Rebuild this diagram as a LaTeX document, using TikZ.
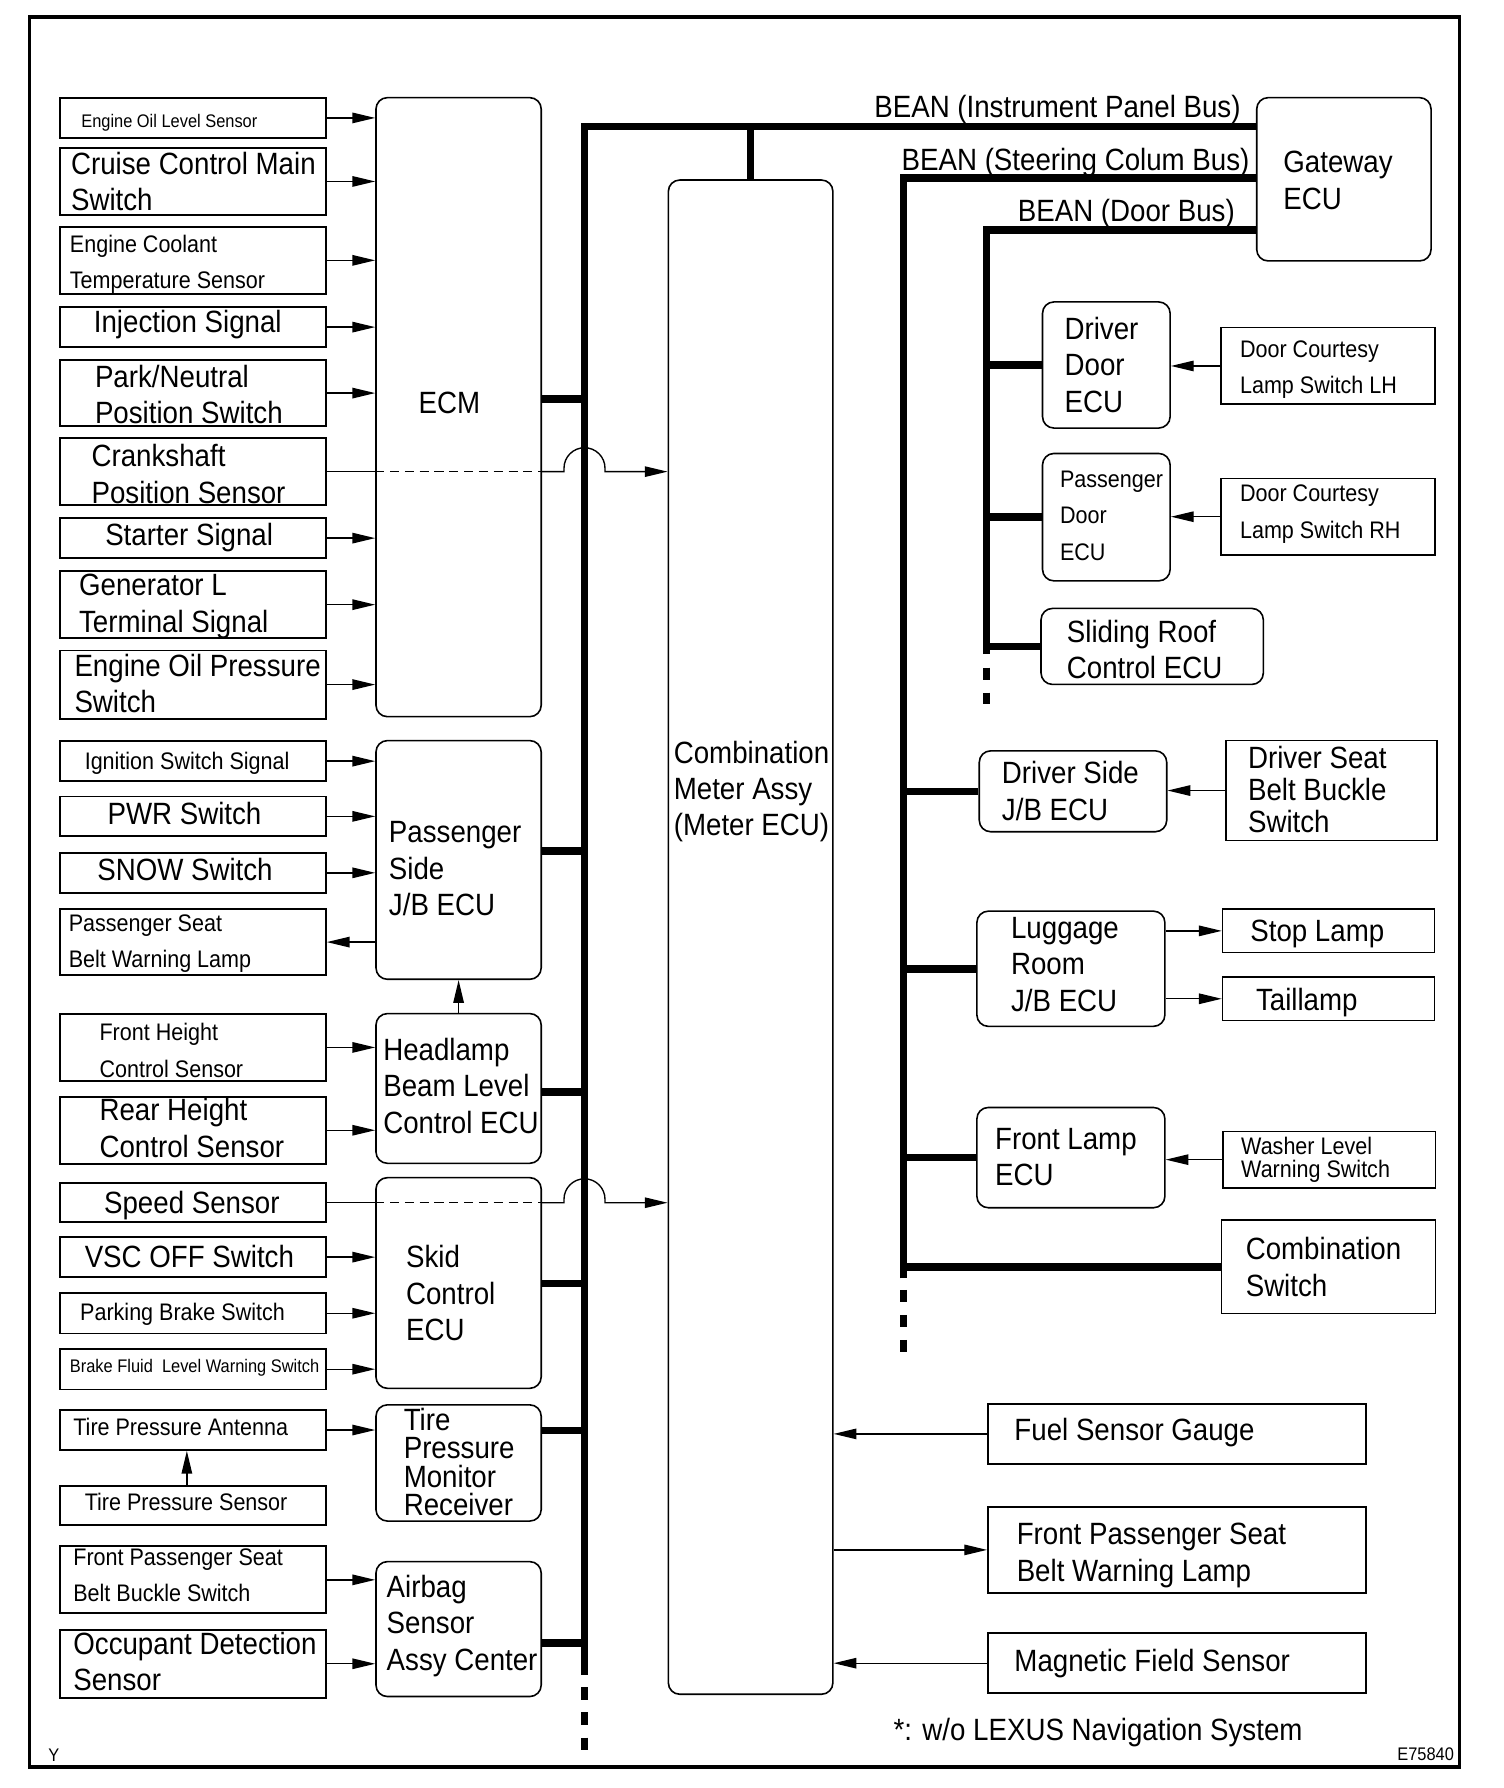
\documentclass[tikz,border=0pt]{standalone}
\usepackage{fontspec}
\setmainfont{Liberation Sans}[FakeStretch=0.9]
\usetikzlibrary{arrows.meta}
\newcommand\fL{\fontsize{13.5}{16}\selectfont}
\newcommand\fLt{\fontsize{13.5}{12.5}\selectfont}
\newcommand\fLd{\fontsize{13.5}{14}\selectfont}
\newcommand\fM{\fontsize{10.5}{16}\selectfont}
\newcommand\fMw{\fontsize{10.5}{10}\selectfont}
\newcommand\fS{\fontsize{8}{10}\selectfont}
\newcommand\bx[6]{\node[#1, minimum width={(#5-#3)*0.5pt}, minimum height={(#6-#4)*0.5pt}] (#2) at ({(#3+#5)/2},{(#4+#6)/2}) {};}
\newcommand\tx[4]{\node[txt, font=#1] (#2) at (#3) {\rule{0pt}{0.97em}#4\rule[-0.25em]{0pt}{0.25em}};}
\tikzset{
 lbox/.style={draw, line width=0.8pt, inner sep=0pt},
 ecu/.style={draw, rounded corners=5pt, line width=0.7pt, inner sep=0pt},
 rbox/.style={draw, line width=0.7pt, inner sep=0pt},
 txt/.style={anchor=west, inner sep=0pt, align=left},
 bus/.style={line width=3.3pt},
 busd/.style={line width=3.3pt, dash pattern=on 5.5pt off 5.5pt},
 arr/.style={line width=0.6pt, -{Triangle[length=10pt,width=4.6pt]}},
 thinl/.style={line width=0.6pt},
}
\begin{document}
\begin{tikzpicture}[x=0.5pt,y=-0.5pt]
\useasboundingbox (0,0) rectangle (1320,1569.3);
\draw[line width=1.5pt] (26,15) rectangle (1281,1551);

% left boxes
\bx{lbox}{eol}{53}{86}{286}{121}
\bx{lbox}{ccm}{53}{130}{286}{188.5}
\bx{lbox}{ect}{53}{199}{286}{258}
\bx{lbox}{inj}{53}{269.5}{286}{304.7}
\bx{lbox}{pnp}{53}{316}{286}{374}
\bx{lbox}{cps}{53}{384.4}{286}{443.5}
\bx{lbox}{sts}{53}{454.6}{286}{490}
\bx{lbox}{gen}{53}{501.4}{286}{560}
\bx{lbox}{eop}{53}{571}{286}{630.7}
\bx{lbox}{ign}{53}{650.4}{286}{685.7}
\bx{lbox}{pwr}{53}{699}{286}{734}
\bx{lbox}{snow}{53}{748.6}{286}{783.5}
\bx{lbox}{psb}{53}{797.7}{286}{856}
\bx{lbox}{fhc}{53}{889.6}{286}{949}
\bx{lbox}{rhc}{53}{962.6}{286}{1021.4}
\bx{lbox}{spd}{53}{1038.6}{286}{1072.6}
\bx{lbox}{vsc}{53}{1085.7}{286}{1121}
\bx{lbox}{pbs}{53}{1134.8}{286}{1170.4}
\bx{lbox}{bfl}{53}{1183.9}{286}{1219.5}
\bx{lbox}{tpa}{53}{1237.6}{286}{1272.6}
\bx{lbox}{tps}{53}{1304}{286}{1338.8}
\bx{lbox}{fpb}{53}{1357.2}{286}{1416}
\bx{lbox}{ods}{53}{1430.5}{286}{1490}

% ECUs
\bx{ecu}{ecm}{330}{85.7}{475}{629}
\bx{ecu}{psj}{330}{650}{475}{859.5}
\bx{ecu}{hlb}{330}{889.6}{475}{1021}
\bx{ecu}{skid}{330}{1033.6}{475}{1218.5}
\bx{ecu}{tpm}{330}{1233}{475}{1335}
\bx{ecu}{abg}{330}{1370.6}{475}{1489}
\bx{ecu}{meter}{586.6}{158}{731}{1487}
\bx{ecu}{gw}{1103}{85.7}{1256}{229}
\bx{ecu}{dde}{915}{265}{1027}{375.7}
\bx{ecu}{pde}{915}{398}{1027}{509.8}
\bx{ecu}{srf}{913.7}{534}{1108.8}{600.7}
\bx{ecu}{dsj}{859.5}{659}{1024}{730}
\bx{ecu}{lrj}{857.4}{799.7}{1022.4}{900.8}
\bx{ecu}{fle}{857.4}{972}{1022.4}{1060}

% right boxes
\bx{rbox}{dcl}{1071.7}{287.6}{1259.5}{354.8}
\bx{rbox}{dcr}{1071.7}{420}{1259.5}{487}
\bx{rbox}{dsb}{1076}{650}{1261}{737.7}
\bx{rbox}{stop}{1073}{798}{1259}{836}
\bx{rbox}{tail}{1073}{857.5}{1259}{895.7}
\bx{rbox}{wash}{1073.4}{993}{1260}{1042.6}
\bx{rbox}{csw}{1072}{1071}{1260}{1153}
\bx{rbox}{fsg}{867}{1232}{1199}{1285}
\bx{rbox}{fpl}{867}{1322.6}{1199}{1398}
\bx{rbox}{mfs}{867}{1433.5}{1199}{1486}

% buses
\coordinate (ipc) at (513,111);
\coordinate (scc) at (793,156);
\coordinate (dbc) at (866,202);
\coordinate (mbe) at (513,1470);
\coordinate (sbe) at (793,1122);
\coordinate (dbe) at (866,574);
\draw[bus] (mbe) -- (ipc) -- (ipc -| gw.west);
\draw[busd] (513,1481) -- (513,1537);
\draw[bus] (meter.north) -- (meter.north |- ipc);
\draw[bus] (sbe) -- (scc) -- (scc -| gw.west);
\draw[busd] (793,1132) -- (793,1189);
\draw[bus] (dbe) -- (dbc) -- (dbc -| gw.west);
\draw[busd] (866,586) -- (866,618);

\coordinate (b1) at (513,350);
\coordinate (b2) at (513,747);
\coordinate (b3) at (513,958.6);
\coordinate (b4) at (513,1126.5);
\coordinate (b5) at (513,1255.5);
\coordinate (b6) at (513,1442);
\draw[bus] (b1 -| ecm.east) -- (b1);
\draw[bus] (b2 -| psj.east) -- (b2);
\draw[bus] (b3 -| hlb.east) -- (b3);
\draw[bus] (b4 -| skid.east) -- (b4);
\draw[bus] (b5 -| tpm.east) -- (b5);
\draw[bus] (b6 -| abg.east) -- (b6);

\draw[bus] (dde.west) -- (dde.west -| dbc);
\draw[bus] (pde.west) -- (pde.west -| dbc);
\draw[bus] (srf.west) -- (srf.west -| dbc);
\draw[bus] (dsj.west) -- (dsj.west -| scc);
\draw[bus] (lrj.west) -- (lrj.west -| scc);
\draw[bus] (fle.west) -- (fle.west -| scc);
\draw[bus] (csw.west) -- (csw.west -| scc);

% arrows into the ECUs
\foreach \n in {eol,ccm,ect,inj,pnp,sts,gen,eop}
  \draw[arr] (\n.east) -- (\n.east -| ecm.west);
\foreach \n in {ign,pwr,snow}
  \draw[arr] (\n.east) -- (\n.east -| psj.west);
\draw[arr] (psb.east -| psj.west) -- (psb.east);
\foreach \n in {fhc,rhc}
  \draw[arr] (\n.east) -- (\n.east -| hlb.west);
\draw[arr] (hlb.north) -- (psj.south);
\foreach \n in {vsc,pbs,bfl}
  \draw[arr] (\n.east) -- (\n.east -| skid.west);
\draw[arr] (tpa.east) -- (tpa.east -| tpm.west);
\draw[arr] ([xshift=-2.75pt]tps.north) -- ([xshift=-2.75pt]tpa.south);
\foreach \n in {fpb,ods}
  \draw[arr] (\n.east) -- (\n.east -| abg.west);

% hops over the bus
\coordinate (hx) at (495,0);
\draw[thinl] (cps.east) -- (cps.east -| ecm.west);
\draw[thinl, dash pattern=on 4pt off 2.5pt] (cps.east -| ecm.west) -- (cps.east -| ecm.east);
\draw[arr] (cps.east -| ecm.east) -- (cps.east -| hx) -- ++(0,-3) arc[start angle=180,end angle=0,radius=9pt] -- ++(0,3) -- (cps.east -| meter.west);
\draw[thinl] (spd.east) -- (spd.east -| skid.west);
\draw[thinl, dash pattern=on 4pt off 2.5pt] (spd.east -| skid.west) -- (spd.east -| skid.east);
\draw[arr] (spd.east -| skid.east) -- (spd.east -| hx) -- ++(0,-3) arc[start angle=180,end angle=0,radius=9pt] -- ++(0,3) -- (spd.east -| meter.west);

% right arrows
\draw[arr] (dcl.west) -- (dcl.west -| dde.east);
\draw[arr] (dcr.west) -- (dcr.west -| pde.east);
\draw[arr] (dsb.west) -- (dsb.west -| dsj.east);
\draw[arr] (stop.west -| lrj.east) -- (stop.west);
\draw[arr] (tail.west -| lrj.east) -- (tail.west);
\draw[arr] (wash.west) -- (wash.west -| fle.east);
\draw[arr] (fsg.west) -- (fsg.west -| meter.east);
\draw[arr] (fpl.west -| meter.east) -- (fpl.west);
\draw[arr] (mfs.west) -- (mfs.west -| meter.east);

% texts left
\tx{\fS}{t1}{71,106}{Engine Oil Level Sensor}
\tx{\fL}{t2}{62,159}{Cruise Control Main\\Switch}
\tx{\fM}{t3}{61,230}{Engine Coolant\\Temperature Sensor}
\tx{\fL}{t4}{82,282}{Injection Signal}
\tx{\fL}{t5}{83,346}{Park/Neutral\\Position Switch}
\tx{\fL}{t6}{80,416}{Crankshaft\\Position Sensor}
\tx{\fL}{t7}{92,469}{Starter Signal}
\tx{\fL}{t8}{69,529}{Generator L\\Terminal Signal}
\tx{\fL}{t9}{65,600}{Engine Oil Pressure\\Switch}
\tx{\fM}{t10}{74,668}{Ignition Switch Signal}
\tx{\fL}{t11}{94,714}{PWR Switch}
\tx{\fL}{t12}{85,763}{SNOW Switch}
\tx{\fM}{t13}{60,826}{Passenger Seat\\Belt Warning Lamp}
\tx{\fM}{t14}{87,922}{Front Height\\Control Sensor}
\tx{\fL}{t15}{87,990}{Rear Height\\Control Sensor}
\tx{\fL}{t16}{91,1055}{Speed Sensor}
\tx{\fL}{t17}{74,1103}{VSC OFF Switch}
\tx{\fM}{t18}{70,1151}{Parking Brake Switch}
\tx{\fS}{t19}{61,1199}{Brake Fluid\ \ Level Warning Switch}
\tx{\fM}{t20}{64,1252}{Tire Pressure Antenna}
\tx{\fM}{t21}{74,1318}{Tire Pressure Sensor}
\tx{\fM}{t22}{64,1382}{Front Passenger Seat\\Belt Buckle Switch}
\tx{\fL}{t23}{64,1458}{Occupant Detection\\Sensor}

% texts middle
\tx{\fL}{t24}{367,353}{ECM}
\tx{\fL}{t25}{341,762}{Passenger\\Side\\J/B ECU}
\tx{\fL}{t26}{336,953}{Headlamp\\Beam Level\\Control ECU}
\tx{\fL}{t27}{356,1135}{Skid\\Control\\ECU}
\tx{\fLt}{t28}{354,1283}{Tire\\Pressure\\Monitor\\Receiver}
\tx{\fL}{t29}{339,1424}{Airbag\\Sensor\\Assy Center}
\tx{\fL}{t30}{591,692}{Combination\\Meter Assy\\(Meter ECU)}

% texts right
\tx{\fL}{t31}{767,93}{BEAN (Instrument Panel Bus)}
\tx{\fL}{t32}{791,140}{BEAN (Steering Colum Bus)}
\tx{\fL}{t33}{893,185}{BEAN (Door Bus)}
\tx{\fL}{t34}{1126,158}{Gateway\\ECU}
\tx{\fL}{t35}{934,320}{Driver\\Door\\ECU}
\tx{\fM}{t36}{1088,322}{Door Courtesy\\Lamp Switch LH}
\tx{\fM}{t37}{930,452}{Passenger\\Door\\ECU}
\tx{\fM}{t38}{1088,449}{Door Courtesy\\Lamp Switch RH}
\tx{\fL}{t39}{936,570}{Sliding Roof\\Control ECU}
\tx{\fL}{t40}{879,694}{Driver Side\\J/B ECU}
\tx{\fLd}{t41}{1095,693}{Driver Seat\\Belt Buckle\\Switch}
\tx{\fL}{t42}{887,846}{Luggage\\Room\\J/B ECU}
\tx{\fL}{t43}{1097,817}{Stop Lamp}
\tx{\fL}{t44}{1102,877}{Taillamp}
\tx{\fL}{t45}{873,1015}{Front Lamp\\ECU}
\tx{\fMw}{t46}{1089,1016}{Washer Level\\Warning Switch}
\tx{\fL}{t47}{1093,1112}{Combination\\Switch}
\tx{\fL}{t48}{890,1255}{Fuel Sensor Gauge}
\tx{\fL}{t49}{892,1362}{Front Passenger Seat\\Belt Warning Lamp}
\tx{\fL}{t50}{890,1457}{Magnetic Field Sensor}
\tx{\fL}{t51}{784,1518}{*: w/o LEXUS Navigation System}
\tx{\fS}{t52}{1226,1539}{E75840}
\tx{\fS}{t53}{42,1540}{Y}
\end{tikzpicture}
\end{document}
